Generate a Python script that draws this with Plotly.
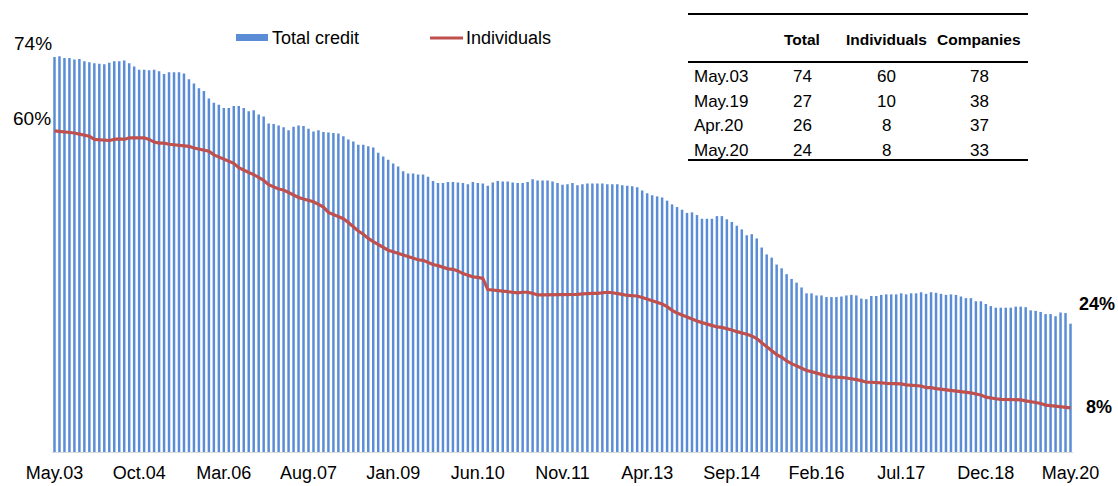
import plotly.graph_objects as go

# ---- data ----
total_credit = [
    74.2, 74.3, 74.0, 74.0, 73.7, 73.8, 73.4, 73.2, 73.0, 72.9, 72.8, 73.1, 73.4, 73.4, 73.5, 73.0, 72.4, 71.8, 71.8, 71.7,
    71.8, 71.5, 71.0, 71.3, 71.3, 71.3, 71.1, 70.0, 69.2, 68.3, 67.8, 66.4, 65.6, 65.2, 64.6, 64.6, 65.0, 65.0, 64.6, 64.0,
    64.2, 63.4, 63.0, 61.7, 61.6, 61.3, 61.0, 60.4, 61.1, 61.3, 61.2, 60.7, 60.2, 60.4, 60.1, 60.0, 59.9, 59.8, 59.3, 58.7,
    58.3, 57.7, 57.7, 57.4, 57.2, 56.2, 55.5, 54.9, 54.2, 53.6, 52.7, 52.3, 52.3, 52.1, 52.1, 51.7, 50.9, 50.5, 50.5, 50.7,
    50.7, 50.6, 50.5, 50.3, 50.7, 50.5, 50.4, 50.0, 50.6, 50.9, 50.8, 50.8, 50.6, 50.5, 50.5, 50.7, 51.2, 51.0, 51.0, 51.0,
    50.8, 50.5, 50.2, 50.3, 50.5, 50.1, 50.3, 50.4, 50.4, 50.4, 50.4, 50.3, 50.3, 50.3, 50.1, 50.0, 49.9, 49.7, 49.1, 48.6,
    48.2, 48.0, 47.8, 47.2, 46.5, 46.0, 45.5, 44.9, 45.0, 44.5, 43.8, 43.8, 43.8, 44.3, 44.3, 43.7, 43.2, 42.5, 41.8, 40.7,
    40.9, 40.1, 38.4, 37.1, 36.5, 35.2, 34.5, 33.4, 32.5, 31.8, 30.9, 29.8, 29.8, 29.4, 29.4, 29.1, 29.1, 29.1, 29.2, 29.4,
    29.5, 29.4, 28.8, 28.7, 29.3, 29.3, 29.5, 29.6, 29.6, 29.6, 29.8, 29.6, 29.8, 29.8, 30.0, 29.7, 30.0, 29.9, 29.7, 29.5,
    29.6, 29.5, 29.2, 28.9, 28.9, 28.3, 28.3, 27.8, 27.4, 27.1, 27.1, 27.1, 27.1, 27.3, 27.3, 27.2, 26.6, 26.5, 26.3, 25.9,
    25.9, 25.5, 26.2, 26.1, 24.1,
]
individuals = [
    60.3, 60.2, 60.1, 60.1, 59.9, 59.7, 59.5, 59.3, 58.7, 58.6, 58.6, 58.5, 58.7, 58.8, 58.7, 59.0, 59.0, 59.0, 59.0, 58.7,
    58.2, 58.0, 58.0, 57.8, 57.7, 57.5, 57.5, 57.4, 57.1, 56.9, 56.8, 56.5, 55.8, 55.4, 55.1, 54.6, 54.2, 53.4, 52.9, 52.5,
    52.1, 51.5, 51.0, 50.2, 49.8, 49.4, 49.2, 48.7, 48.2, 47.8, 47.5, 47.3, 47.0, 46.5, 46.0, 45.0, 44.6, 44.3, 43.8, 43.1,
    42.3, 41.5, 40.9, 40.1, 39.5, 39.0, 38.4, 37.9, 37.6, 37.3, 37.1, 36.8, 36.5, 36.1, 36.0, 35.6, 35.2, 35.0, 34.7, 34.4,
    34.3, 34.0, 33.5, 33.2, 32.9, 32.8, 32.6, 30.5, 30.4, 30.4, 30.3, 30.1, 30.0, 29.9, 30.0, 30.0, 29.8, 29.5, 29.5, 29.5,
    29.5, 29.6, 29.6, 29.6, 29.6, 29.6, 29.7, 29.8, 29.8, 29.8, 29.9, 30.0, 29.9, 29.8, 29.6, 29.4, 29.3, 29.3, 29.0, 28.7,
    28.4, 28.1, 27.8, 27.3, 26.6, 26.1, 25.7, 25.3, 25.0, 24.6, 24.3, 24.0, 23.7, 23.5, 23.4, 23.2, 22.9, 22.6, 22.4, 22.1,
    21.8, 21.3, 20.5, 19.8, 19.0, 18.3, 17.8, 17.1, 16.6, 16.2, 15.8, 15.3, 15.1, 14.8, 14.5, 14.3, 14.1, 14.1, 14.0, 13.9,
    13.8, 13.6, 13.4, 13.1, 13.1, 13.1, 13.0, 12.9, 12.9, 12.8, 12.8, 12.6, 12.5, 12.5, 12.4, 12.1, 12.1, 11.9, 11.8, 11.7,
    11.5, 11.4, 11.3, 11.2, 11.1, 10.9, 10.7, 10.3, 10.1, 10.0, 9.9, 9.9, 9.8, 9.8, 9.8, 9.6, 9.5, 9.3, 9.1, 8.8,
    8.7, 8.6, 8.5, 8.4, 8.3,
]
tick_labels = ["May.03", "Oct.04", "Mar.06", "Aug.07", "Jan.09", "Jun.10", "Nov.11",
               "Apr.13", "Sep.14", "Feb.16", "Jul.17", "Dec.18", "May.20"]
tick_step = 17

table_header = ["", "Total", "Individuals", "Companies"]
table_rows = ["May.03", "May.19", "Apr.20", "May.20"]
table_total = [74, 27, 26, 24]
table_individuals = [60, 10, 8, 8]
table_companies = [78, 38, 37, 33]

left_labels = ["74%", "60%"]
right_labels = ["24%", "8%"]

# ---- figure ----
W, H = 1118, 486
ML, MR, MT, MB = 52, 45, 26, 34
PW, PH = W - ML - MR, H - MT - MB
YMAX = 80

def px(X):
    return (X - ML) / PW

def py(Y):
    return (H - MB - Y) / PH

BLUE = "#5A8DD6"
RED = "#C0504D"
FONT = "Liberation Sans, Arial, sans-serif"

n = len(total_credit)
xs = list(range(n))

fig = go.Figure()
fig.add_trace(go.Bar(x=xs, y=total_credit, name="Total credit", marker=dict(color=BLUE, line=dict(width=0)),
                     showlegend=False))
fig.add_trace(go.Scatter(x=xs, y=individuals, name="Individuals", mode="lines",
                         line=dict(color=RED, width=3.2), showlegend=False))

fig.update_layout(
    width=W, height=H,
    margin=dict(l=ML, r=MR, t=MT, b=MB, autoexpand=False),
    paper_bgcolor="white", plot_bgcolor="white",
    bargap=0.5,
    font=dict(family=FONT, size=18, color="#000000"),
    xaxis=dict(range=[-0.5, n - 0.5], tickvals=xs[::tick_step], ticktext=tick_labels, automargin=False,
               showgrid=False, zeroline=False, showline=True, linecolor="#D9D9D9", linewidth=1,
               ticks="", tickfont=dict(size=18), ticklabelstandoff=4),
    yaxis=dict(range=[0, YMAX], visible=False, showgrid=False, zeroline=False, automargin=False),
)

shapes = []
ann = []

# legend (drawn)
shapes.append(dict(type="rect", xref="paper", yref="paper", x0=px(236), x1=px(268), y0=py(41), y1=py(34),
                   fillcolor=BLUE, line=dict(width=0)))
ann.append(dict(xref="paper", yref="paper", x=px(270), y=py(38), text="Total credit", showarrow=False,
                xanchor="left", yanchor="middle", font=dict(size=18)))
shapes.append(dict(type="line", xref="paper", yref="paper", x0=px(430), x1=px(463), y0=py(38), y1=py(38),
                   line=dict(color=RED, width=3)))
ann.append(dict(xref="paper", yref="paper", x=px(464), y=py(38), text="Individuals", showarrow=False,
                xanchor="left", yanchor="middle", font=dict(size=18)))

# value labels
ann.append(dict(xref="paper", yref="paper", x=px(33), y=py(43), text=left_labels[0], showarrow=False,
                xanchor="center", yanchor="middle", font=dict(size=19)))
ann.append(dict(xref="paper", yref="paper", x=px(32), y=py(118), text=left_labels[1], showarrow=False,
                xanchor="center", yanchor="middle", font=dict(size=19)))
ann.append(dict(xref="paper", yref="paper", x=px(1097), y=py(304), text="<b>" + right_labels[0] + "</b>",
                showarrow=False, xanchor="center", yanchor="middle", font=dict(size=18)))
ann.append(dict(xref="paper", yref="paper", x=px(1099), y=py(407), text="<b>" + right_labels[1] + "</b>",
                showarrow=False, xanchor="center", yanchor="middle", font=dict(size=18)))

# table
TX0, TX1 = 688, 1028
for yy in (14, 62, 160):
    shapes.append(dict(type="line", xref="paper", yref="paper", x0=px(TX0), x1=px(TX1), y0=py(yy), y1=py(yy),
                       line=dict(color="black", width=2)))
col_x = [692, 802, 886, 979]
for j in range(1, 4):
    ann.append(dict(xref="paper", yref="paper", x=px(col_x[j]), y=py(39), text="<b>" + table_header[j] + "</b>",
                    showarrow=False, xanchor="center", yanchor="middle", font=dict(size=15.5)))
row_y = [77, 101, 125, 150]
for i, lab in enumerate(table_rows):
    ann.append(dict(xref="paper", yref="paper", x=px(col_x[0]), y=py(row_y[i]), text=lab, showarrow=False,
                    xanchor="left", yanchor="middle", font=dict(size=17)))
    for j, vals in enumerate((table_total, table_individuals, table_companies), start=1):
        ann.append(dict(xref="paper", yref="paper", x=px(col_x[j]), y=py(row_y[i]), text=str(vals[i]),
                        showarrow=False, xanchor="center", yanchor="middle", font=dict(size=17)))

fig.update_layout(shapes=shapes, annotations=ann)
fig.write_html("out.html", config={"displayModeBar": False},
               post_script="document.body.style.margin='0';document.body.style.padding='0';")
